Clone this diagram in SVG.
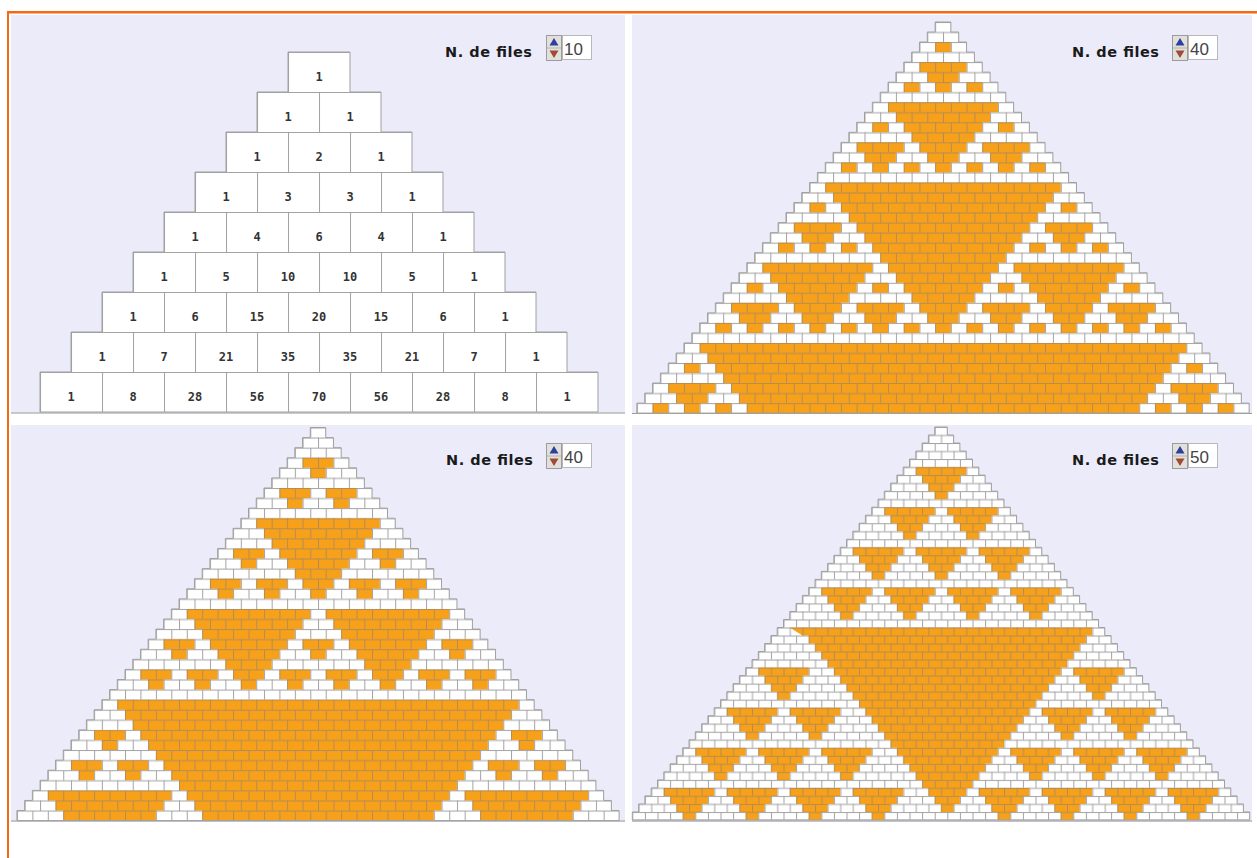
<svg xmlns="http://www.w3.org/2000/svg" xmlns:xlink="http://www.w3.org/1999/xlink" width="1257" height="858" viewBox="0 0 1257 858">
<style>
.bg{fill:#ecebfa}
.bw{fill:#a3a3a3}
.bo{fill:#b58c55}
.lbl{font-family:"DejaVu Sans",Verdana,sans-serif;font-weight:bold;font-size:14.5px;fill:#1a1a1a}
.num{font-family:"DejaVu Sans Mono","Liberation Mono",monospace;font-weight:bold;font-size:12px;fill:#333;text-anchor:middle}
.val{font-family:"Liberation Sans Narrow","Liberation Sans",Arial,sans-serif;font-size:17px;fill:#444}
.ol{fill:none;stroke:#a0a0a0;stroke-width:1}
.base{stroke:#9a9a9a;stroke-width:1}
</style>
<defs>
<path id="tri39" vector-effect="non-scaling-stroke" d="M-1 0H1V1H2V2H3V3H4V4H5V5H6V6H7V7H8V8H9V9H10V10H11V11H12V12H13V13H14V14H15V15H16V16H17V17H18V18H19V19H20V20H21V21H22V22H23V23H24V24H25V25H26V26H27V27H28V28H29V29H30V30H31V31H32V32H33V33H34V34H35V35H36V36H37V37H38V38H39V39H-39V38H-38V37H-37V36H-36V35H-35V34H-34V33H-33V32H-32V31H-31V30H-30V29H-29V28H-28V27H-27V26H-26V25H-25V24H-24V23H-23V22H-22V21H-21V20H-20V19H-19V18H-18V17H-17V16H-16V15H-15V14H-14V13H-13V12H-12V11H-11V10H-10V9H-9V8H-8V7H-7V6H-6V5H-5V4H-4V3H-3V2H-2V1H-1z"/>
<path id="tri49" vector-effect="non-scaling-stroke" d="M-1 0H1V1H2V2H3V3H4V4H5V5H6V6H7V7H8V8H9V9H10V10H11V11H12V12H13V13H14V14H15V15H16V16H17V17H18V18H19V19H20V20H21V21H22V22H23V23H24V24H25V25H26V26H27V27H28V28H29V29H30V30H31V31H32V32H33V33H34V34H35V35H36V36H37V37H38V38H39V39H40V40H41V41H42V42H43V43H44V44H45V45H46V46H47V47H48V48H49V49H-49V48H-48V47H-47V46H-46V45H-45V44H-44V43H-43V42H-42V41H-41V40H-40V39H-39V38H-38V37H-37V36H-36V35H-35V34H-34V33H-33V32H-32V31H-31V30H-30V29H-29V28H-28V27H-27V26H-26V25H-25V24H-24V23H-23V22H-22V21H-21V20H-20V19H-19V18H-18V17H-17V16H-16V15H-15V14H-14V13H-13V12H-12V11H-11V10H-10V9H-9V8H-8V7H-7V6H-6V5H-5V4H-4V3H-3V2H-2V1H-1z"/>
<path id="tri9" vector-effect="non-scaling-stroke" d="M-1 0H1V1H2V2H3V3H4V4H5V5H6V6H7V7H8V8H9V9H-9V8H-8V7H-7V6H-6V5H-5V4H-4V3H-3V2H-2V1H-1z"/>
<clipPath id="clip39"><rect x="-60" y="0" width="120" height="39"/></clipPath>
<pattern id="wTL" patternUnits="userSpaceOnUse" x="-1" y="0" width="2" height="2">
<rect width="2" height="2" fill="#fff"/><rect class="bw" width="2" height="0.025"/><rect class="bw" y="1" width="2" height="0.025"/><rect class="bw" width="0.033" height="1"/><rect class="bw" x="1" y="1" width="0.033" height="1"/>
</pattern>
<pattern id="wTR" patternUnits="userSpaceOnUse" x="-1" y="0" width="2" height="2">
<rect width="2" height="2" fill="#fff"/><rect class="bw" width="2" height="0.1"/><rect class="bw" y="1" width="2" height="0.1"/><rect class="bw" width="0.127" height="1"/><rect class="bw" x="1" y="1" width="0.127" height="1"/>
</pattern>
<pattern id="oTR" patternUnits="userSpaceOnUse" x="-1" y="0" width="2" height="2">
<rect width="2" height="2" fill="#f7a11a"/><rect class="bo" width="2" height="0.1"/><rect class="bo" y="1" width="2" height="0.1"/><rect class="bo" width="0.127" height="1"/><rect class="bo" x="1" y="1" width="0.127" height="1"/>
</pattern>
<pattern id="wBL" patternUnits="userSpaceOnUse" x="-1" y="0" width="2" height="2">
<rect width="2" height="2" fill="#fff"/><rect class="bw" width="2" height="0.099"/><rect class="bw" y="1" width="2" height="0.099"/><rect class="bw" width="0.13" height="1"/><rect class="bw" x="1" y="1" width="0.13" height="1"/>
</pattern>
<pattern id="oBL" patternUnits="userSpaceOnUse" x="-1" y="0" width="2" height="2">
<rect width="2" height="2" fill="#f7a11a"/><rect class="bo" width="2" height="0.099"/><rect class="bo" y="1" width="2" height="0.099"/><rect class="bo" width="0.13" height="1"/><rect class="bo" x="1" y="1" width="0.13" height="1"/>
</pattern>
<pattern id="wBR" patternUnits="userSpaceOnUse" x="-1" y="0" width="2" height="2">
<rect width="2" height="2" fill="#fff"/><rect class="bw" width="2" height="0.125"/><rect class="bw" y="1" width="2" height="0.125"/><rect class="bw" width="0.159" height="1"/><rect class="bw" x="1" y="1" width="0.159" height="1"/>
</pattern>
<pattern id="oBR" patternUnits="userSpaceOnUse" x="-1" y="0" width="2" height="2">
<rect width="2" height="2" fill="#f7a11a"/><rect class="bo" width="2" height="0.125"/><rect class="bo" y="1" width="2" height="0.125"/><rect class="bo" width="0.159" height="1"/><rect class="bo" x="1" y="1" width="0.159" height="1"/>
</pattern>
<g id="z2"><path d="M-1 2h2v1h-2z"/></g>
<g id="z3"><use href="#z2"/><use href="#z2" x="-4" y="4"/><use href="#z2" x="4" y="4"/><path d="M-3 4h6v1h-1v1h-1v1h-2v-1h-1v-1h-1z"/></g>
<g id="z4"><use href="#z3"/><use href="#z3" x="-8" y="8"/><use href="#z3" x="8" y="8"/><path d="M-7 8h14v1h-1v1h-1v1h-1v1h-1v1h-1v1h-1v1h-2v-1h-1v-1h-1v-1h-1v-1h-1v-1h-1v-1h-1z"/></g>
<g id="z5"><use href="#z4"/><use href="#z4" x="-16" y="16"/><use href="#z4" x="16" y="16"/><path d="M-15 16h30v1h-1v1h-1v1h-1v1h-1v1h-1v1h-1v1h-1v1h-1v1h-1v1h-1v1h-1v1h-1v1h-1v1h-1v1h-2v-1h-1v-1h-1v-1h-1v-1h-1v-1h-1v-1h-1v-1h-1v-1h-1v-1h-1v-1h-1v-1h-1v-1h-1v-1h-1v-1h-1z"/></g>
<g id="a2"><path d="M-2 3h4v1h-1v1h-2v-1h-1z"/><path d="M-5 6h4v1h-1v1h-2v-1h-1z"/><path d="M1 6h4v1h-1v1h-2v-1h-1z"/></g>
<g id="a3"><use href="#a2"/><use href="#a2" x="-9" y="9"/><use href="#a2" x="9" y="9"/><use href="#a2" x="-18" y="18"/><use href="#a2" x="0" y="18"/><use href="#a2" x="18" y="18"/>
<path d="M-8 9h16v1h-1v1h-1v1h-1v1h-1v1h-1v1h-1v1h-1v1h-2v-1h-1v-1h-1v-1h-1v-1h-1v-1h-1v-1h-1v-1h-1z"/>
<path d="M-17 18h16v1h-1v1h-1v1h-1v1h-1v1h-1v1h-1v1h-1v1h-2v-1h-1v-1h-1v-1h-1v-1h-1v-1h-1v-1h-1v-1h-1z"/>
<path d="M1 18h16v1h-1v1h-1v1h-1v1h-1v1h-1v1h-1v1h-1v1h-2v-1h-1v-1h-1v-1h-1v-1h-1v-1h-1v-1h-1v-1h-1z"/></g>
<g id="b2">
<path d="M-4 5h8v1h-1v1h-1v1h-1v1h-2v-1h-1v-1h-1v-1h-1z"/>
<path d="M-9 10h8v1h-1v1h-1v1h-1v1h-2v-1h-1v-1h-1v-1h-1z"/>
<path d="M1 10h8v1h-1v1h-1v1h-1v1h-2v-1h-1v-1h-1v-1h-1z"/>
<path d="M-14 15h8v1h-1v1h-1v1h-1v1h-2v-1h-1v-1h-1v-1h-1z"/>
<path d="M-4 15h8v1h-1v1h-1v1h-1v1h-2v-1h-1v-1h-1v-1h-1z"/>
<path d="M6 15h8v1h-1v1h-1v1h-1v1h-2v-1h-1v-1h-1v-1h-1z"/>
<path d="M-19 20h8v1h-1v1h-1v1h-1v1h-2v-1h-1v-1h-1v-1h-1z"/>
<path d="M-9 20h8v1h-1v1h-1v1h-1v1h-2v-1h-1v-1h-1v-1h-1z"/>
<path d="M1 20h8v1h-1v1h-1v1h-1v1h-2v-1h-1v-1h-1v-1h-1z"/>
<path d="M11 20h8v1h-1v1h-1v1h-1v1h-2v-1h-1v-1h-1v-1h-1z"/>
</g>
<g id="ctl">
<rect x="0.5" y="0.5" width="15" height="25" fill="#e2e0da" stroke="#9c9c9c"/>
<line x1="1" y1="13" x2="15" y2="13" stroke="#b4b4b4"/>
<polygon points="8,3 3.5,10.5 12.5,10.5" fill="#2e3f9c"/>
<polygon points="3.5,15.5 12.5,15.5 8,23" fill="#a24a3a"/>
<rect x="16.5" y="0.5" width="29" height="24" fill="#fff" stroke="#b8b8b8"/>
</g>
</defs>

<g id="frame">
<rect x="7" y="11" width="1250" height="2.5" fill="#f26a12"/>
<rect x="7" y="11" width="2" height="847" fill="#f26a12"/>
</g>

<g id="panel-numbers">
<rect class="bg" x="11" y="15" width="614" height="398"/>
<line class="base" x1="11" y1="413" x2="625" y2="413"/>
<g transform="translate(319,52) scale(31,40)">
<use href="#tri9" fill="url(#wTL)"/>
<use href="#tri9" class="ol"/>
</g>
<g id="numbers">
<text class="num" x="319" y="80.5">1</text>
<text class="num" x="288" y="120.5">1</text><text class="num" x="350" y="120.5">1</text>
<text class="num" x="257" y="160.5">1</text><text class="num" x="319" y="160.5">2</text><text class="num" x="381" y="160.5">1</text>
<text class="num" x="226" y="200.5">1</text><text class="num" x="288" y="200.5">3</text><text class="num" x="350" y="200.5">3</text><text class="num" x="412" y="200.5">1</text>
<text class="num" x="195" y="240.5">1</text><text class="num" x="257" y="240.5">4</text><text class="num" x="319" y="240.5">6</text><text class="num" x="381" y="240.5">4</text><text class="num" x="443" y="240.5">1</text>
<text class="num" x="164" y="280.5">1</text><text class="num" x="226" y="280.5">5</text><text class="num" x="288" y="280.5">10</text><text class="num" x="350" y="280.5">10</text><text class="num" x="412" y="280.5">5</text><text class="num" x="474" y="280.5">1</text>
<text class="num" x="133" y="320.5">1</text><text class="num" x="195" y="320.5">6</text><text class="num" x="257" y="320.5">15</text><text class="num" x="319" y="320.5">20</text><text class="num" x="381" y="320.5">15</text><text class="num" x="443" y="320.5">6</text><text class="num" x="505" y="320.5">1</text>
<text class="num" x="102" y="360.5">1</text><text class="num" x="164" y="360.5">7</text><text class="num" x="226" y="360.5">21</text><text class="num" x="288" y="360.5">35</text><text class="num" x="350" y="360.5">35</text><text class="num" x="412" y="360.5">21</text><text class="num" x="474" y="360.5">7</text><text class="num" x="536" y="360.5">1</text>
<text class="num" x="71" y="400.5">1</text><text class="num" x="133" y="400.5">8</text><text class="num" x="195" y="400.5">28</text><text class="num" x="257" y="400.5">56</text><text class="num" x="319" y="400.5">70</text><text class="num" x="381" y="400.5">56</text><text class="num" x="443" y="400.5">28</text><text class="num" x="505" y="400.5">8</text><text class="num" x="567" y="400.5">1</text>
</g>
<g id="ctl-tl"><text class="lbl" x="445" y="57" textLength="87" lengthAdjust="spacing">N. de files</text><use href="#ctl" x="546" y="35"/><text class="val" x="564" y="55">10</text></g>
</g>

<g id="panel-mod2">
<rect class="bg" x="632" y="15" width="620" height="398"/>
<line class="base" x1="632" y1="413.5" x2="1252" y2="413.5"/>
<g transform="translate(943,22) scale(7.85,10.03)">
<use href="#tri39" fill="url(#wTR)"/>
<g fill="url(#oTR)">
<use href="#z5"/>
<use href="#z3" x="-32" y="32"/>
<use href="#z3" x="32" y="32"/>
<path d="M-31 32h62v1h-1v1h-1v1h-1v1h-1v1h-1v1h-1v1H-25v-1h-1v-1h-1v-1h-1v-1h-1v-1h-1v-1h-1z"/>
</g>
<use href="#tri39" class="ol"/>
</g>
<g id="ctl-tr"><text class="lbl" x="1072" y="57" textLength="87" lengthAdjust="spacing">N. de files</text><use href="#ctl" x="1172" y="35"/><text class="val" x="1190" y="55">40</text></g>
</g>

<g id="panel-mod3">
<rect class="bg" x="11" y="425" width="614" height="397"/>
<line class="base" x1="11" y1="821" x2="625" y2="821"/>
<g transform="translate(318,427.5) scale(7.72,10.08)">
<use href="#tri39" fill="url(#wBL)"/>
<g fill="url(#oBL)">
<use href="#a3"/>
<g clip-path="url(#clip39)"><use href="#a3" x="-27" y="27"/><use href="#a3" x="27" y="27"/></g>
<path d="M-26 27h52v1h-1v1h-1v1h-1v1h-1v1h-1v1h-1v1h-1v1h-1v1h-1v1h-1v1h-1v1H-15v-1h-1v-1h-1v-1h-1v-1h-1v-1h-1v-1h-1v-1h-1v-1h-1v-1h-1v-1h-1v-1h-1z"/>
</g>
<use href="#tri39" class="ol"/>
</g>
<g id="ctl-bl"><text class="lbl" x="446" y="465" textLength="87" lengthAdjust="spacing">N. de files</text><use href="#ctl" x="546" y="443"/><text class="val" x="564" y="463">40</text></g>
</g>

<g id="panel-mod5">
<rect class="bg" x="632" y="425" width="620" height="397"/>
<line class="base" x1="632" y1="821" x2="1252" y2="821"/>
<g transform="translate(941,427) scale(6.3,8.02)">
<use href="#tri49" fill="url(#wBR)"/>
<g fill="url(#oBR)">
<use href="#b2"/>
<use href="#b2" x="-25" y="25"/>
<use href="#b2" x="25" y="25"/>
<path d="M-24 25h48v1h-1v1h-1v1h-1v1h-1v1h-1v1h-1v1h-1v1h-1v1h-1v1h-1v1h-1v1h-1v1h-1v1h-1v1h-1v1h-1v1h-1v1h-1v1h-1v1h-1v1h-1v1h-1v1h-2v-1h-1v-1h-1v-1h-1v-1h-1v-1h-1v-1h-1v-1h-1v-1h-1v-1h-1v-1h-1v-1h-1v-1h-1v-1h-1v-1h-1v-1h-1v-1h-1v-1h-1v-1h-1v-1h-1v-1h-1v-1h-1v-1h-1z"/>
</g>
<use href="#tri49" class="ol"/>
</g>
<g id="ctl-br"><text class="lbl" x="1072" y="465" textLength="87" lengthAdjust="spacing">N. de files</text><use href="#ctl" x="1172" y="443"/><text class="val" x="1190" y="463">50</text></g>
</g>
</svg>
